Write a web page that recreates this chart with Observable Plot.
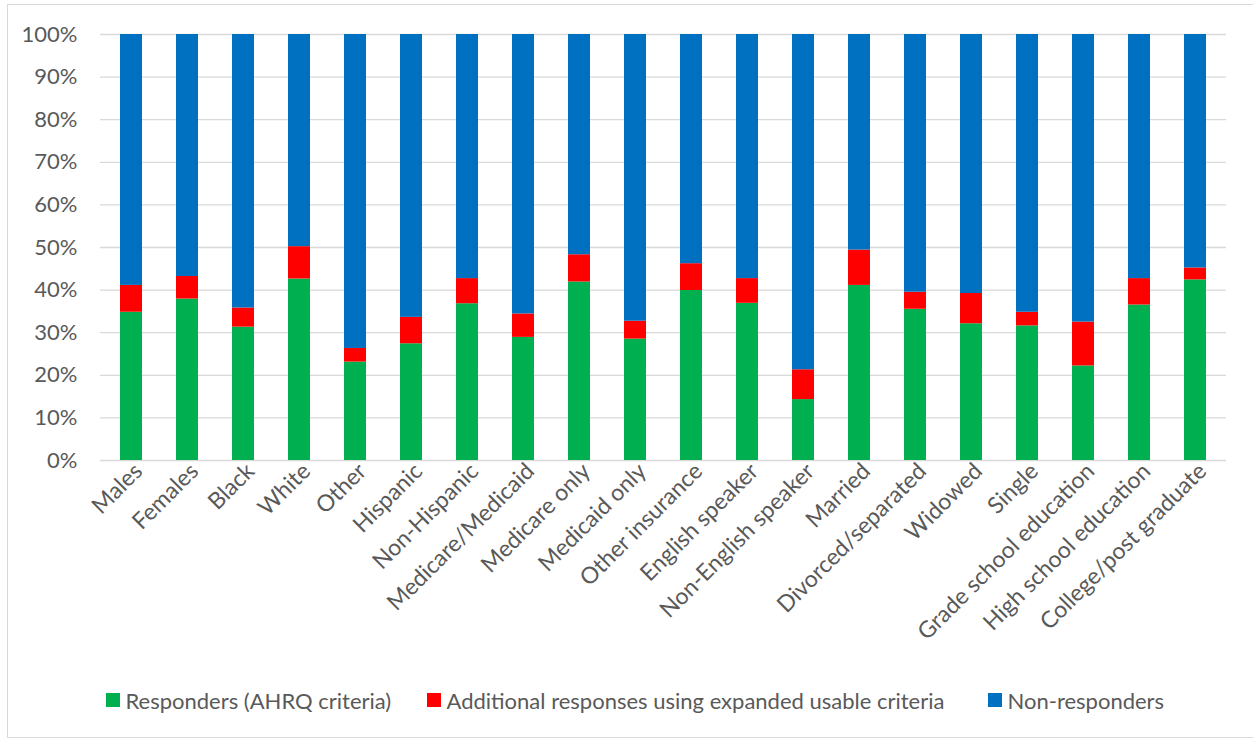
<!DOCTYPE html>
<html>
<head>
<meta charset="utf-8">
<script src="https://cdn.jsdelivr.net/npm/d3@7"></script>
<script src="https://cdn.jsdelivr.net/npm/@observablehq/plot@0.6"></script>
<style>
  body { margin: 0; background: #fff; font-family: Lato, "Open Sans", sans-serif; }
  #frame { position: absolute; left: 7px; top: 4px; width: 1260px; height: 734px; border: 1.5px solid #d9d9d9; box-sizing: border-box; }
  #chart { position: absolute; left: 0; top: 0; }
  .item { position: absolute; top: 686px; height: 28px; display: flex; align-items: center; font-size: 22px; color: #595959; white-space: nowrap; }
  .sw { width: 13.5px; height: 13.5px; margin-right: 6px; }
</style>
</head>
<body>
<div id="frame"></div>
<div id="chart"></div>
<div id="legend"></div>
<script>
const categories = ["Males","Females","Black","White","Other","Hispanic","Non-Hispanic","Medicare/Medicaid","Medicare only","Medicaid only","Other insurance","English speaker","Non-English speaker","Married","Divorced/separated","Widowed","Single","Grade school education","High school education","College/post graduate"];
const responders    = [34.8, 37.9, 31.3, 42.6, 23.1, 27.4, 36.8, 28.9, 41.9, 28.5, 39.9, 36.9, 14.3, 41.1, 35.5, 32.1, 31.6, 22.2, 36.5, 42.4];
const additional    = [ 6.3,  5.3,  4.5,  7.6,  3.2,  6.2,  5.9,  5.5,  6.4,  4.2,  6.3,  5.8,  7.0,  8.3,  4.0,  7.1,  3.2, 10.3,  6.2,  2.8];
const nonResponders = [58.9, 56.8, 64.2, 49.8, 73.7, 66.4, 57.3, 65.6, 51.7, 67.3, 53.8, 57.3, 78.7, 50.6, 60.5, 60.8, 65.2, 67.5, 57.3, 54.8];
const seriesNames = ["Responders (AHRQ criteria)", "Additional responses using expanded usable criteria", "Non-responders"];
const seriesColors = ["#00B050", "#FF0000", "#0070C0"];
const yTicks = [0,10,20,30,40,50,60,70,80,90,100];
const legendLeft = [106, 427, 988];

const seriesValues = [responders, additional, nonResponders];
const data = [];
seriesNames.forEach((s, si) => {
  categories.forEach((c, ci) => data.push({category: c, series: s, value: seriesValues[si][ci]}));
});

const chart = Plot.plot({
  width: 1253,
  height: 672,
  marginLeft: 100,
  marginRight: 27,
  marginTop: 34,
  marginBottom: 212,
  style: { fontFamily: "Lato, 'Open Sans', sans-serif", fontSize: "22px", color: "#595959", background: "transparent" },
  x: { domain: categories, paddingInner: 0.6, paddingOuter: 0.3 },
  y: { domain: [0, 100], ticks: yTicks, tickFormat: d => d + "%", label: null, tickSize: 0, tickPadding: 23 },
  color: { domain: seriesNames, range: seriesColors },
  marks: [
    Plot.ruleY(yTicks, { stroke: "#d9d9d9", strokeWidth: 1.3 }),
    Plot.barY(data, { x: "category", y: "value", fill: "series", order: seriesNames }),
    Plot.axisX({ label: null, tickSize: 0, tickRotate: -45, tickPadding: 7, dx: 7, fontSize: 23 })
  ]
});
document.getElementById("chart").appendChild(chart);

const legend = document.getElementById("legend");
seriesNames.forEach((s, i) => {
  const it = document.createElement("div");
  it.className = "item";
  it.style.left = legendLeft[i] + "px";
  const sw = document.createElement("div");
  sw.className = "sw";
  sw.style.background = seriesColors[i];
  const t = document.createElement("span");
  t.textContent = s;
  it.appendChild(sw); it.appendChild(t);
  legend.appendChild(it);
});
</script>
</body>
</html>
